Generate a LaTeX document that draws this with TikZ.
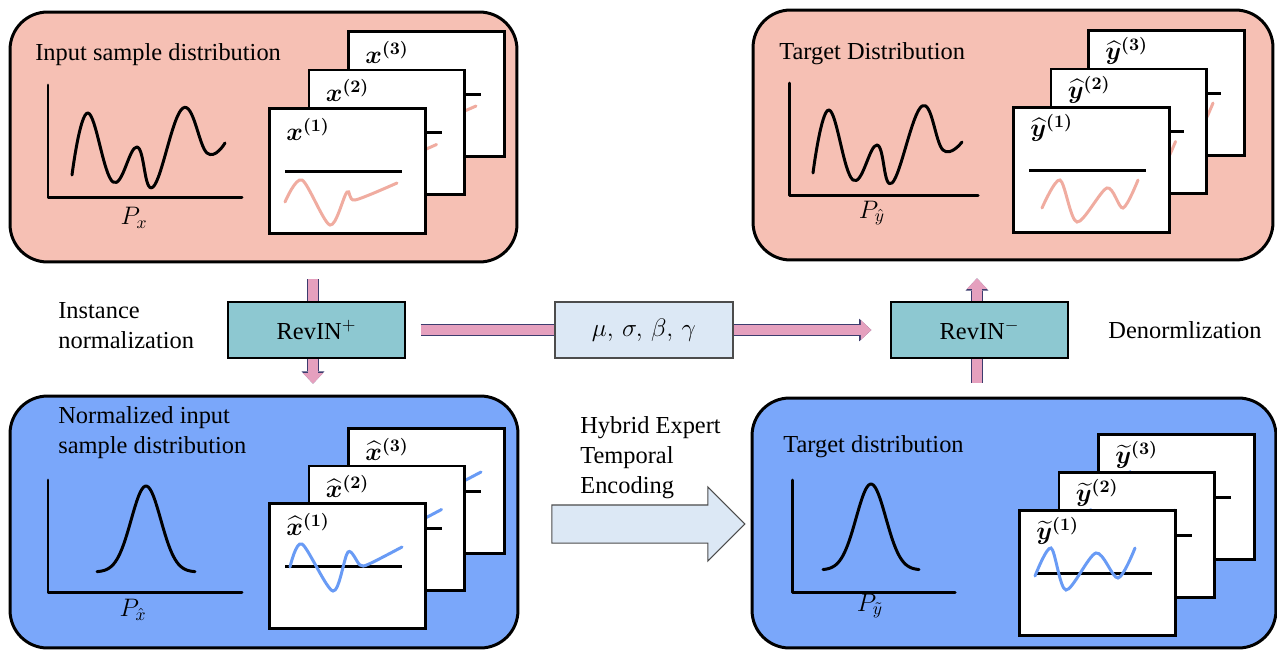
\documentclass[tikz,border=0pt]{standalone}
\usepackage{fontspec}
\setmainfont{Liberation Serif}
\usepackage{amsmath,bm}
\usetikzlibrary{arrows.meta,shapes.arrows,backgrounds,calc}

\definecolor{inpink}{RGB}{246,192,180}
\definecolor{normblue}{RGB}{122,167,250}
\definecolor{revteal}{RGB}{141,200,209}
\definecolor{parblue}{RGB}{220,232,245}
\definecolor{flowpink}{RGB}{229,160,190}
\definecolor{flowedge}{RGB}{60,60,110}
\definecolor{wavepink}{RGB}{240,172,160}
\definecolor{waveblue}{RGB}{105,155,245}

\begin{document}
\begin{tikzpicture}
      [x=0.02cm, y=-0.02cm,
       panel/.style={
           rectangle,
           rounded corners=0.75cm,
           draw=black, line width=1.7pt,
           inner sep=0pt
         },
       card/.style={
           rectangle, anchor=north west,
           draw=black, line width=1.6pt, fill=white,
           minimum width=3.12cm, minimum height=2.5cm,
           inner sep=0pt
         },
       cardlbl/.style={anchor=west, inner sep=0pt, font=\Large},
       distlbl/.style={inner sep=0pt, font=\fontsize{14.4}{16}\selectfont},
       curve/.style={line width=1.7pt, line join=round, line cap=round},
       level/.style={line width=1.7pt},
       wave/.style={line width=1.7pt, line cap=round},
       caption/.style={anchor=west, inner sep=0pt, align=left,
           font=\fontsize{13.9}{17}\selectfont},
       revin/.style={
           rectangle, draw=black, line width=0.8pt, fill=revteal,
           minimum width=3.54cm, minimum height=1.12cm,
           font=\fontsize{13.9}{16}\selectfont
         },
       params/.style={
           rectangle, draw=gray!60!black, line width=0.6pt, fill=parblue,
           minimum width=3.56cm, minimum height=1.12cm,
           font=\fontsize{15}{17}\selectfont
         },
       flow/.style={
           draw=flowpink, line width=5.7pt,
           -{Triangle[length=6pt,width=11.5pt,line width=0pt]},
           preaction={draw=flowedge, line width=6.8pt,
             -{Triangle[length=7pt,width=13pt,line width=0pt]}}
         },
      ]
    \useasboundingbox (0,0) rectangle (1277,650);

    % input samples
    \node [panel, fill=inpink, minimum width=10.14cm, minimum height=5cm] (inbox) at (263.5,137) {};
    \node [caption] (intitle) at (35,55) {Input sample distribution};
    \draw [curve] (48,85) -- (48,197) -- (242,197);
    \draw [curve] plot [smooth, tension=0.7] coordinates {(72,175) (88,113) (113,182) (137,147) (153,187) (183,108) (207,153) (225,143)};
    \node [distlbl] (inP) at (134,218) {$P_{x}$};
    \foreach \i in {3,2,1} {
      \node [card] (xin\i) at ({268+39.5*(\i-1)},{107-38.5*(\i-1)}) {};
      \begin{scope}[shift={(xin\i.north west)}]
        \draw [level] (17,64) -- (134,64);
        \draw [wave, wavepink] plot [smooth] coordinates {(17,95) (34,73) (62,118) (79,85) (87,93) (129,76)};
        \node [cardlbl] at (18,22) {$\bm{x}^{\bm{(\i)}}$};
      \end{scope}
    }

    % target (denormalized)
    \node [panel, fill=inpink, minimum width=10.4cm, minimum height=5cm] (tgtbox) at (1013,135) {};
    \node [caption] (tgttitle) at (779,54) {Target Distribution};
    \draw [curve] (789,83) -- (789,195) -- (978,195);
    \draw [curve] plot [smooth, tension=0.7] coordinates {(813,173) (829,110) (853,180) (877,145) (892,183) (922,106) (943,150) (962,142)};
    \node [distlbl] (tgtP) at (872,213) {$P_{\hat{y}}$};
    \foreach \i in {3,2,1} {
      \node [card] (yhat\i) at ({1012+37.5*(\i-1)},{106-38.5*(\i-1)}) {};
      \begin{scope}[shift={(yhat\i.north west)}]
        \draw [level] (17,64) -- (134,64);
        \draw [wave, wavepink] plot [smooth] coordinates {(30,102) (48,74) (65,116) (95,82) (111,102) (126,74)};
        \node [cardlbl] at (18,22) {$\widehat{\bm{y}}^{\bm{(\i)}}$};
      \end{scope}
    }

    % normalized input
    \node [panel, fill=normblue, minimum width=10.16cm, minimum height=5.04cm] (normbox) at (264,522) {};
    \node [caption] (normtitle) at (58,433) {Normalized input\\sample distribution};
    \draw [curve] (48,480) -- (48,592) -- (242,592);
    \draw [curve] plot [domain=-49:49, samples=60] ({146+\x},{572-86*exp(-(\x/21)^2)});
    \node [distlbl] (normP) at (133,610) {$P_{\hat{x}}$};
    \foreach \i in {3,2,1} {
      \node [card] (xhat\i) at ({268+39.5*(\i-1)},{502-37.5*(\i-1)}) {};
      \begin{scope}[shift={(xhat\i.north west)}]
        \draw [level] (17,64) -- (134,64);
        \draw [wave, waveblue] plot [smooth] coordinates {(22,65) (34,42) (65,89) (80,50) (92,63) (101,62) (134,45)};
        \node [cardlbl] at (18,22) {$\widehat{\bm{x}}^{\bm{(\i)}}$};
      \end{scope}
    }

    % predicted (normalized) target
    \node [panel, fill=normblue, minimum width=10.48cm, minimum height=5cm] (predbox) at (1014,523) {};
    \node [caption] (predtitle) at (783,447) {Target distribution};
    \draw [curve] (792,480) -- (792,592) -- (955,592);
    \draw [curve] plot [domain=-48:48, samples=60] ({871+\x},{570-86*exp(-(\x/21)^2)});
    \node [distlbl] (predP) at (870,606) {$P_{\tilde{y}}$};
    \foreach \i in {3,2,1} {
      \node [card] (ytil\i) at ({1018+39.5*(\i-1)},{509-38*(\i-1)}) {};
      \begin{scope}[shift={(ytil\i.north west)}]
        \draw [level] (17,64) -- (134,64);
        \draw [wave, waveblue] plot [smooth] coordinates {(17,67) (33,39) (48,81) (78,44) (100,69) (117,39)};
        \node [cardlbl] at (18,22) {$\widetilde{\bm{y}}^{\bm{(\i)}}$};
      \end{scope}
    }

    % middle row
    \node [caption] (instlbl) at (58,326) {Instance\\normalization};
    \node [revin] (revp) at (316.5,330) {RevIN$^{+}$};
    \node [params] (par) at (644,330) {$\mu,\,\sigma,\,\beta,\,\gamma$};
    \node [revin] (revm) at (979.5,330) {RevIN$^{-}$};
    \node [caption] (denlbl) at (1108,330) {Denormlization};

    \begin{scope}[on background layer]
      \draw [flow] ($(revp.north)+(-3.5,-22)$) -- ($(revp.south)+(-3.5,25)$);
      \draw [flow] ($(revp.east)+(15,0)$) -- ($(revm.west)+(-19,0)$);
      \draw [flow] ($(revm.south)+(-2.5,24)$) -- ($(revm.north)+(-2.5,-23)$);
    \end{scope}

    % encoder arrow
    \node [caption] (hetlbl) at (580,458) {Hybrid Expert\\Temporal\\Encoding};
    \node [single arrow, anchor=tip, draw=gray!60!black, line width=0.6pt, fill=parblue,
           minimum height=3.86cm, inner sep=0.37cm, single arrow head extend=0.36cm]
          (hetarrow) at ($(predbox.west)+(-5,1)$) {};

  \end{tikzpicture}
\end{document}
